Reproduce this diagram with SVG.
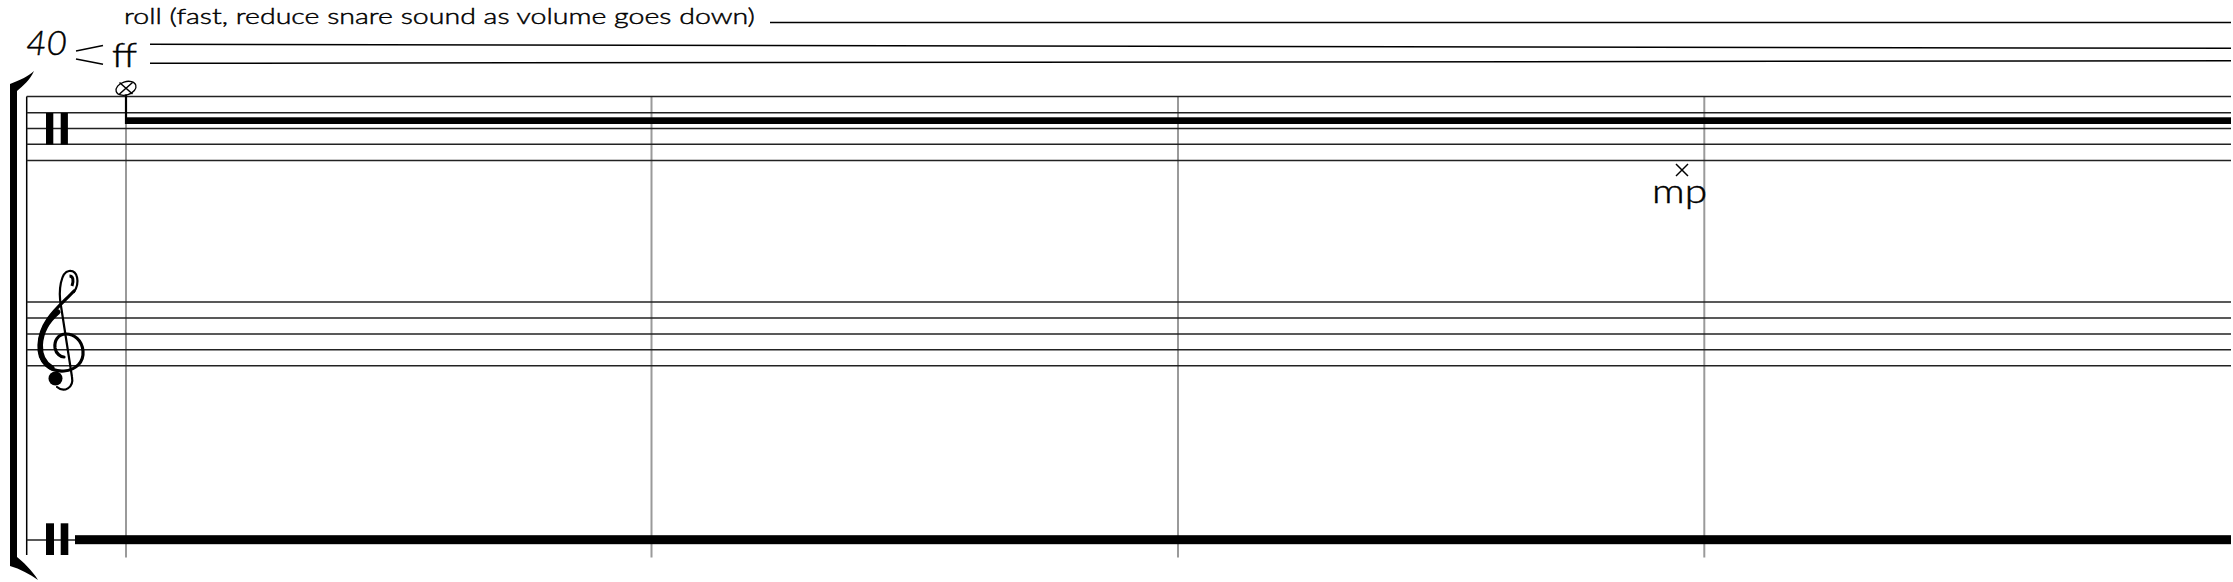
<svg xmlns="http://www.w3.org/2000/svg" width="2233" height="582" viewBox="0 0 2233 582">
<style>
.staff{stroke:#222;stroke-width:1.5;fill:none}
.bar{stroke:#9a9a9a;stroke-width:2;fill:none}
.ink{stroke:#000;stroke-width:1.5;fill:none}
.txt{font-family:Lato,"Open Sans","Liberation Sans",sans-serif;font-weight:300;fill:#000;stroke:#000;stroke-width:0.45}
.blk{fill:#000}
</style>
<rect width="2233" height="582" fill="#fff"/>
<g id="bracket">
<path class="blk" d="M10 84 C20 80,29 76,34 71 C30 80,23 86,17 91 L17 557 C23 562,32 570,38 580 C30 574,20 569,10 566 Z"/>
<line class="ink" x1="26.7" y1="96.5" x2="26.7" y2="555"/>
</g>
<g id="barlines">
<line class="bar" x1="126" y1="96.5" x2="126" y2="557.5"/>
<line class="bar" x1="651.5" y1="96.5" x2="651.5" y2="557.5"/>
<line class="bar" x1="1178" y1="96.5" x2="1178" y2="557.5"/>
<line class="bar" x1="1704.3" y1="96.5" x2="1704.3" y2="557.5"/>
</g>
<g id="staff-1">
<line class="staff" x1="26.7" y1="96.5" x2="2231" y2="96.5"/>
<line class="staff" x1="26.7" y1="112.7" x2="2231" y2="112.7"/>
<line class="staff" x1="26.7" y1="128.4" x2="2231" y2="128.4"/>
<line class="staff" x1="26.7" y1="144.2" x2="2231" y2="144.2"/>
<line class="staff" x1="26.7" y1="160.4" x2="2231" y2="160.4"/>
<rect class="blk" x="46" y="113" width="7.3" height="31.5"/>
<rect class="blk" x="60.7" y="113" width="7.2" height="31.5"/>
</g>
<g id="staff-2">
<line class="staff" x1="26.7" y1="302" x2="2231" y2="302"/>
<line class="staff" x1="26.7" y1="318" x2="2231" y2="318"/>
<line class="staff" x1="26.7" y1="334" x2="2231" y2="334"/>
<line class="staff" x1="26.7" y1="349.8" x2="2231" y2="349.8"/>
<line class="staff" x1="26.7" y1="365.7" x2="2231" y2="365.7"/>
<g id="treble-clef">
<path d="M74 291 C60 306,40 320,39 345 C38 362,50 372,64 371 C76 370,84 362,83 351 C82 340,74 334,66 334 C58 334,54 341,55 348 C56 354,61 357,64 357" stroke="#000" stroke-width="3.2" fill="none" stroke-linecap="round"/>
<path d="M58 312 C46 322,41 333,40.5 345 C40 356,45 364,52 368" stroke="#000" stroke-width="5" fill="none" stroke-linecap="round"/>
<path d="M74 292 C80 283,78 270,69 271 C61 272,58 290,61 306 L72 377 C74 388,64 393,57 387" stroke="#000" stroke-width="2.2" fill="none" stroke-linecap="round"/>
<path d="M72 286 C74 280,73 276,69.5 276" stroke="#000" stroke-width="3" fill="none"/>
<circle cx="55.5" cy="378.5" r="7" fill="#000"/>
</g>
</g>
<g id="staff-3">
<line class="staff" x1="26.7" y1="540" x2="76" y2="540"/>
<rect class="blk" x="46" y="523.3" width="8" height="31.7"/>
<rect class="blk" x="60.7" y="523.3" width="7.6" height="31.7"/>
<rect class="blk" x="75" y="535.2" width="2156" height="9"/>
</g>
<g id="roll-note">
<ellipse cx="126" cy="88.3" rx="10.3" ry="6.6" transform="rotate(-18 126 88.3)" stroke="#000" stroke-width="1.3" fill="#fff"/>
<line class="ink" x1="119.5" y1="82.5" x2="132.5" y2="94" stroke-width="1.2"/>
<line class="ink" x1="132.5" y1="82.5" x2="119.5" y2="94" stroke-width="1.2"/>
<line x1="126" y1="94.5" x2="126" y2="124" stroke="#000" stroke-width="2.2"/>
<rect class="blk" x="125" y="117.3" width="2106" height="6.7"/>
</g>
<g id="tempo">
<text class="txt" x="26" y="55" font-size="34" font-style="italic" textLength="41" lengthAdjust="spacingAndGlyphs">40</text>
</g>
<g id="dynamics">
<line class="ink" x1="76" y1="51" x2="103" y2="45.5"/>
<line class="ink" x1="76" y1="59" x2="103" y2="64.3"/>
<text class="txt" x="112" y="67" font-size="34" textLength="25" lengthAdjust="spacingAndGlyphs">ff</text>
<line class="ink" x1="150" y1="44.3" x2="2231" y2="48.3"/>
<line class="ink" x1="150" y1="63.3" x2="2231" y2="60.8"/>
<line class="ink" x1="1676" y1="164" x2="1688" y2="176"/>
<line class="ink" x1="1688" y1="164" x2="1676" y2="176"/>
<text class="txt" x="1652" y="203" font-size="34" textLength="55" lengthAdjust="spacingAndGlyphs">mp</text>
</g>
<g id="roll-text">
<text class="txt" x="124" y="24" font-size="22" textLength="631" lengthAdjust="spacingAndGlyphs">roll (fast, reduce snare sound as volume goes down)</text>
<line class="ink" x1="770" y1="22.5" x2="2231" y2="22.5"/>
</g>
</svg>
